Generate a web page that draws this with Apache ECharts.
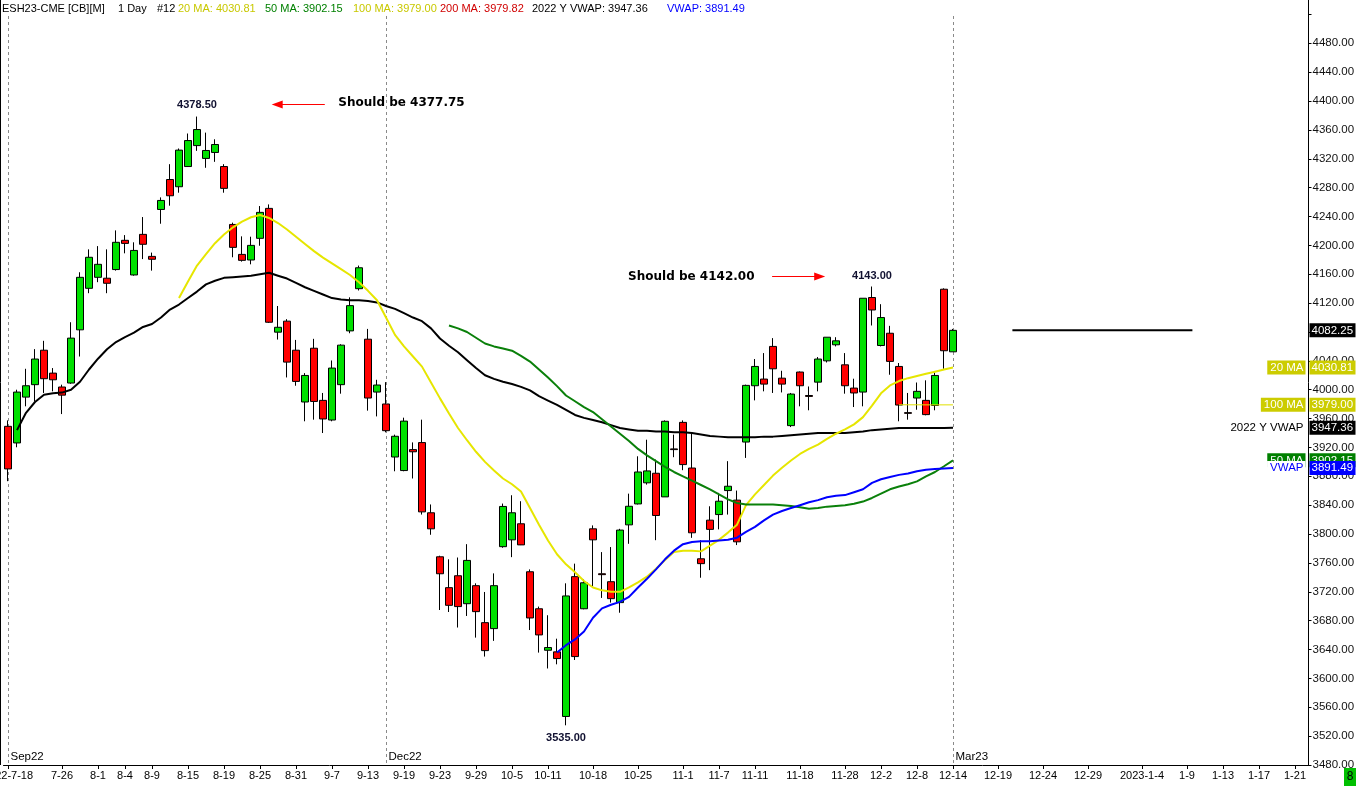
<!DOCTYPE html>
<html><head><meta charset="utf-8">
<script src="https://cdn.jsdelivr.net/npm/echarts@6/dist/echarts.min.js"></script>
<style>html,body{margin:0;padding:0;background:#fff;overflow:hidden}#c{width:1358px;height:787px}</style>
</head><body><div id="c"></div>
<script>
// ---------- categories ----------
const dates = [
"2022-7-18","7-19","7-20","7-21","7-22","7-25","7-26","7-27","7-28","7-29",
"8-1","8-2","8-3","8-4","8-5","8-8","8-9","8-10","8-11","8-12",
"8-15","8-16","8-17","8-18","8-19","8-22","8-23","8-24","8-25","8-26",
"8-29","8-30","8-31","9-1","9-2","9-6","9-7","9-8","9-9","9-12",
"9-13","9-14","9-15","9-16","9-19","9-20","9-21","9-22","9-23","9-26",
"9-27","9-28","9-29","9-30","10-3","10-4","10-5","10-6","10-7","10-10",
"10-11","10-12","10-13","10-14","10-17","10-18","10-19","10-20","10-21","10-24",
"10-25","10-26","10-27","10-28","10-31","11-1","11-2","11-3","11-4","11-7",
"11-8","11-9","11-10","11-11","11-14","11-15","11-16","11-17","11-18","11-21",
"11-22","11-23","11-25","11-28","11-29","11-30","12-1","12-2","12-5","12-6",
"12-7","12-8","12-9","12-12","12-13","12-14",
"12-15","12-16","12-17","12-18","12-19","12-20","12-21","12-22","12-23","12-24",
"12-25","12-26","12-27","12-28","12-29","12-30","12-31","1-1","1-2","1-3",
"2023-1-4","1-5","1-6","1-7","1-8","1-9","1-10","1-11","1-12","1-13",
"1-14","1-15","1-16","1-17","1-18","1-19","1-20","1-21","1-22"];
const tickLabels = ["2022-7-18","7-26","8-1","8-4","8-9","8-15","8-19","8-25","8-31","9-7","9-13","9-19","9-23","9-29","10-5","10-11","10-18","10-25","11-1","11-7","11-11","11-18","11-28","12-2","12-8","12-14","12-19","12-24","12-29","2023-1-4","1-9","1-13","1-17","1-21"];

// ---------- OHLC ----------
const opens = [3949.25,3926.25,3989.75,4007,4054.75,4023,4003.75,4009.25,4083,4140.5,
4155.75,4154.5,4166.5,4207,4159,4215.25,4184.75,4249.75,4291.25,4281.25,
4309.25,4338.25,4320.5,4328.75,4309.25,4229,4187.5,4179.75,4209.75,4251.25,
4079.75,4095,4054.75,3983,4057.5,3985.25,3958,4007,4081.5,4140,
4070,3996.75,3980.25,3906.75,3888,3917,3926.75,3829.5,3768.5,3725.75,
3742.25,3703.5,3728.5,3677.25,3669,3782.5,3792,3814.25,3747.75,3696.5,
3639,3636.75,3547.25,3741,3696.5,3807.25,3745,3734,3705,3812.75,
3841.75,3871,3884.25,3851.5,3918,3954.75,3891.5,3765.75,3819.25,3827,
3860.25,3847,3927.5,4005.5,4014.75,4060,4016,3950.25,4024.5,3992,
4010.5,4040,4062.25,4034.5,4002.25,3996.75,4127.75,4061.25,4078.25,4032.25,
3968.25,3988.5,3985.25,3978.25,4139.25,4052.5];
const highs = [3957.5,4000,4029,4056.25,4067.75,4030,4007,4093.5,4162.75,4194.5,
4199,4194.5,4220.75,4214.25,4204.25,4239.25,4190,4266.5,4312.5,4334.25,
4355,4378.5,4356.25,4347,4312.5,4231.5,4212.5,4212,4254.5,4256.75,
4116,4097.75,4069,4023,4070.5,3995.5,4040.5,4063,4128,4172,
4084.25,4013.75,4010.5,3937.75,3961.25,3927,3958.5,3841,3770,3765,
3767.5,3786,3731.75,3719.75,3745.5,3842.25,3853.75,3845.5,3751,3699.5,
3687.5,3655,3731.75,3759,3737.25,3812,3775,3782,3807.25,3856,
3907.75,3930.75,3903.25,3957.5,3937.75,3957.5,3940,3791.5,3838.5,3857,
3901,3860.25,4007,4042.5,4050.75,4071.5,4026.25,3995.5,4025.25,4004.5,
4045.25,4072.75,4072.75,4050.75,4015.25,4126.75,4143,4118.5,4088.5,4037,
3995.5,4010,4013,4024,4140.5,4084.25];
const lows = [3873.25,3920.25,3977,3983.75,3995.5,3997.75,3966.25,4008.25,4046,4133.75,
4149,4133.75,4165,4189,4158,4181,4165,4230,4255,4273,
4308.75,4331,4307.5,4315.75,4273,4183.5,4177.5,4173.75,4199.5,4092.5,
4069.5,4017,4005.5,3956.25,3958.5,3940,3956.25,3994.5,4078.25,4137.5,
3971,3963,3941,3887,3887,3877,3827,3799,3694.75,3692,
3670.5,3686.5,3656.5,3630.25,3652,3781,3768,3784.75,3667,3635.75,
3613.75,3619.5,3535,3625.5,3695.75,3728,3711.5,3705,3691,3786.5,
3841,3868.5,3791.5,3851.5,3906.5,3888.5,3794.75,3739.5,3750,3806.5,
3827,3784.75,3905.5,3985.25,3997.75,3995.5,3996.25,3948.25,3977,3971.5,
3997.75,4037.75,4060,3994.5,3976,3977,4089,4060,4020.75,3956.25,
3958.5,3972.25,3964.5,3971.5,4029,4052.5];
const closes = [3890.25,3996.75,4005.5,4042.5,4015.25,4013.75,3992.5,4071.5,4155.75,4183.5,
4173.75,4147.5,4204.25,4202.75,4193,4201.5,4180.75,4262.25,4268.75,4332,
4345.25,4360.5,4331.5,4339.75,4279,4197.25,4179.25,4200,4245.75,4093.5,
4086.5,4038.25,4011.5,4019.75,3983.75,3959.5,4030,4061.75,4116.5,4169,
3988.5,4006.5,3943.25,3935.5,3956.5,3914,3830.75,3807.25,3745,3701.25,
3699.5,3763.5,3692.5,3638.5,3728.5,3838.25,3829.5,3785,3683.75,3660.25,
3642.75,3627.5,3714.25,3630.25,3732.5,3792,3743.75,3710.5,3805.5,3838.5,
3886,3887.5,3825.75,3956.25,3917,3896.25,3801.75,3759,3806.5,3845.5,
3866.25,3789.25,4006,4032.25,4007.75,4029,4007.75,3994,4005.5,3990.75,
4042.5,4072.75,4067.75,4005.5,3995.5,4126.75,4110.5,4100,4039.25,3978.75,
3967.25,3997.75,3965.5,4019.75,4054,4082.25];

// ---------- indicator lines ----------
const yearVwapStart = 1;
const yearVwap = [3944,3968,3983,3993,3995,3996,4000,4011,4028,4043,
4056,4066,4073,4079,4087,4091,4100,4111,4118,4127,
4136,4146,4151,4155,4156,4157,4158,4160,4162,4158,
4154,4148,4142,4137,4132,4127,4125,4124,4124,4123,
4121,4116,4112,4106,4100,4095,4085,4071,4061,4052,
4041,4030,4020,4015,4011,4008,4004,3999,3991,3985,
3979,3972,3965,3961,3958,3955,3951,3947,3945,3943,
3943,3942,3942,3941,3941,3940,3938,3936,3935,3934,
3934,3934,3934,3935,3935,3936,3937,3938,3939,3940,
3940,3940,3940,3941,3942,3944,3945,3946,3947,3947,
3947,3947,3947,3947,3947.36];
const ma20Start = 19;
const ma20 = [4127,4150,4172,4188,4203,4215,4225,4233,4239,4242,
4238,4231,4222,4212,4202,4192,4183,4175,4167,4159,
4149,4137,4124,4100,4076,4060,4046,4032,4010,3988,
3967,3947,3930,3914,3900,3888,3877,3869,3859,3836,
3813,3791,3772,3758,3747,3735,3726,3722,3720,3720,
3726,3733,3741,3752,3764,3775,3777,3777,3776,3784,
3792,3802,3813,3840,3855,3868,3881,3892,3902,3911,
3918,3924,3932,3939,3945,3952,3962,3978,3995,4006,
4012,4016,4019,4022,4025,4028,4030.81];
const ma50Start = 49;
const ma50 = [4089,4085,4080,4072,4064,4060,4057,4054,4047,4039,
4028,4017,4005,3992,3984,3976,3969,3959,3949,3939,
3929,3918,3909,3901,3893,3886,3880,3874,3868,3862,
3855,3848,3843,3841,3841,3841,3841,3840,3839,3837,
3835,3836,3838,3839,3840,3842,3845,3850,3856,3862,
3866,3869,3873,3880,3886,3894,3902.15];
const ma100Start = 99;
const ma100 = [3979.2,3979.1,3979.1,3979,3979,3979,3979];
const vwapStart = 61;
const vwap = [3636,3646,3654,3665,3684,3697,3702,3706,3713,3726,
3738,3751,3765,3777,3786,3789,3790,3790,3791,3792,
3795,3803,3810,3819,3827,3832,3836,3840,3844,3847,
3851,3853,3854,3858,3862,3871,3876,3879,3882,3884,
3887,3889,3890,3891,3891.49];
const hLineValue = 4082.25;
const hLineFrom = 111.6, hLineTo = 131.6;

// ---------- texts ----------
const headerParts = [
  {t:"ESH23-CME [CB][M]", c:"#000", x:2},
  {t:"1 Day", c:"#000", x:118},
  {t:"#12", c:"#000", x:157},
  {t:"20 MA: 4030.81", c:"#c8c800", x:178},
  {t:"50 MA: 3902.15", c:"#008000", x:265},
  {t:"100 MA: 3979.00", c:"#c8c800", x:353},
  {t:"200 MA: 3979.82", c:"#d00000", x:440},
  {t:"2022 Y VWAP: 3947.36", c:"#000", x:532},
  {t:"VWAP: 3891.49", c:"#0000ff", x:667}
];
const axisTags = [
  {value:4082.25, bg:"#000000", fg:"#fff"},
  {value:4030.81, bg:"#cccc00", fg:"#fff", name:"20 MA", nameBg:"#cccc00", nameFg:"#fff"},
  {value:3979.00, bg:"#cccc00", fg:"#fff", name:"100 MA", nameBg:"#cccc00", nameFg:"#fff"},
  {value:3947.36, bg:"#000000", fg:"#fff", name:"2022 Y VWAP", nameBg:"#fff", nameFg:"#000"},
  {value:3902.15, bg:"#008000", fg:"#fff", name:"50 MA", nameBg:"#008000", nameFg:"#fff"},
  {value:3891.49, bg:"#0000ff", fg:"#fff", name:"VWAP", nameBg:"#fff", nameFg:"#0000ff"}
];
const extremeLabels = [
  {text:"4378.50", i:21, kind:"high", dy:-12},
  {text:"4143.00", i:96, kind:"high", dy:-11},
  {text:"3535.00", i:62, kind:"low", dy:13}
];
const notes = [
  {text:"Should be 4377.75", i:36.7, price:4397, arrowFrom:35.2, arrowTo:29.3, arrowPrice:4395.7},
  {text:"Should be 4142.00", i:68.9, price:4156, arrowFrom:84.9, arrowTo:90.8, arrowPrice:4157.4}
];
const contracts = [{i:0, label:"Sep22"},{i:42, label:"Dec22"},{i:105, label:"Mar23"}];

// ---------- build ----------
function pad(start, arr){ const out = new Array(dates.length).fill(null); arr.forEach((v,k)=>{out[start+k]=v;}); return out; }
const candles = opens.map((o,k)=>[o, closes[k], lows[k], highs[k]]);
const labelSet = new Set(tickLabels);
const showFn = (idx, val) => labelSet.has(val);
const FONT = "'Liberation Sans', Arial, sans-serif";

const chart = echarts.init(document.getElementById('c'), null, {renderer:'canvas'});
const lineBase = {type:'line', showSymbol:false, symbol:'none', silent:true, z:5, animation:false};
chart.setOption({
  animation:false,
  backgroundColor:'#fff',
  grid:{left:3.5, right:49.5, top:0, bottom:22, containLabel:false, outerBoundsMode:'none'},
  xAxis:{type:'category', data:dates, boundaryGap:true,
    axisLine:{show:true, lineStyle:{color:'#000', width:1}},
    axisTick:{show:true, interval:showFn, alignWithLabel:true, length:4, lineStyle:{color:'#000'}},
    axisLabel:{interval:showFn, fontSize:11, color:'#000', margin:5, fontFamily:FONT, hideOverlap:false},
    splitLine:{show:false}},
  yAxis:{type:'value', position:'right', min:3480, max:4540, interval:40,
    axisLine:{show:true, lineStyle:{color:'#000', width:1}},
    axisTick:{show:true, length:3, lineStyle:{color:'#000'}},
    axisLabel:{formatter:v=>(v > 4500 ? '' : v.toFixed(2)), showMaxLabel:false, margin:4, fontSize:11.5, color:'#111', fontFamily:FONT},
    splitLine:{show:false}},
  series:[
    {type:'candlestick', data:candles, barWidth:7, z:3,
      itemStyle:{color:'#00e000', color0:'#ff0000', borderColor:'#000', borderColor0:'#000', borderWidth:1}},
    Object.assign({}, lineBase, {name:'2022 Y VWAP', data:pad(yearVwapStart, yearVwap), lineStyle:{color:'#000', width:2}}),
    Object.assign({}, lineBase, {name:'20 MA', data:pad(ma20Start, ma20), lineStyle:{color:'#e6e600', width:2}}),
    Object.assign({}, lineBase, {name:'100 MA', data:pad(ma100Start, ma100), lineStyle:{color:'#e0e000', width:1}}),
    Object.assign({}, lineBase, {name:'50 MA', data:pad(ma50Start, ma50), lineStyle:{color:'#0a800a', width:2}}),
    Object.assign({}, lineBase, {name:'VWAP', data:pad(vwapStart, vwap), lineStyle:{color:'#0000ff', width:2}})
  ]
});

function X(i){ const f=Math.floor(i); const a=chart.convertToPixel({xAxisIndex:0}, f); const b=chart.convertToPixel({xAxisIndex:0}, f+1); return a+(b-a)*(i-f); }
function Y(p){ return chart.convertToPixel({yAxisIndex:0}, p); }

const g = [];
const yBottom = Y(3480);
// left frame line
g.push({type:'line', shape:{x1:0.5,y1:0,x2:0.5,y2:yBottom}, style:{stroke:'#000', lineWidth:1}, z:50});
// header
headerParts.forEach(p=>g.push({type:'text', x:p.x, y:9, style:{text:p.t, fill:p.c, font:"11px "+FONT, verticalAlign:'middle'}, z:60}));
// contract roll lines
contracts.forEach(c=>{
  const x = Math.round(X(c.i))+0.5;
  g.push({type:'line', shape:{x1:x,y1:16,x2:x,y2:yBottom}, style:{stroke:'#8a8a8a', lineWidth:1, lineDash:[3,3]}, z:2});
  g.push({type:'text', x:x+2, y:yBottom-8, style:{text:c.label, fill:'#000', font:"11.5px "+FONT, verticalAlign:'middle'}, z:60});
});
// horizontal line
g.push({type:'line', shape:{x1:X(hLineFrom), y1:Y(hLineValue), x2:X(hLineTo), y2:Y(hLineValue)}, style:{stroke:'#000', lineWidth:2}, z:6});
// extreme labels
extremeLabels.forEach(e=>{
  const p = e.kind==='high' ? highs[e.i] : lows[e.i];
  g.push({type:'text', x:X(e.i), y:Y(p)+e.dy, style:{text:e.text, fill:'#101030', font:"bold 11px "+FONT, align:'center', verticalAlign:'middle'}, z:60});
});
// notes with arrows
notes.forEach(n=>{
  g.push({type:'text', x:X(n.i), y:Y(n.price), style:{text:n.text, fill:'#000', font:"bold 12px 'DejaVu Sans', sans-serif", verticalAlign:'middle'}, z:60});
  const x1 = X(n.arrowFrom), x2 = X(n.arrowTo), y = Math.round(Y(n.arrowPrice))+0.5;
  const dir = x2 > x1 ? 1 : -1;
  g.push({type:'line', shape:{x1:x1, y1:y, x2:x2 - dir*8, y2:y}, style:{stroke:'#ff0000', lineWidth:1}, z:60});
  g.push({type:'polygon', shape:{points:[[x2,y],[x2-dir*11,y-4],[x2-dir*11,y+4]]}, style:{fill:'#ff0000'}, z:60});
});
// axis tags
const axisX = X(144) + 4.5;
axisTags.forEach((t,k)=>{
  const y = Y(t.value);
  g.push({type:'rect', shape:{x:axisX+1, y:y-7, width:46, height:14}, style:{fill:t.bg}, z:70+k*2});
  g.push({type:'text', x:axisX+3, y:y, style:{text:t.value.toFixed(2), fill:t.fg, font:"11.5px "+FONT, verticalAlign:'middle'}, z:71+k*2});
  if (t.name){
    g.push({type:'text', x:axisX-3, y:y, style:{text:t.name, fill:t.nameFg, backgroundColor:t.nameBg, padding:[1,2,1,3], font:"11.5px "+FONT, align:'right', verticalAlign:'middle'}, z:71+k*2});
  }
});
// bottom-right box
g.push({type:'rect', shape:{x:1344, y:768, width:12, height:18}, style:{fill:'#00c000'}, z:80});
g.push({type:'text', x:1350, y:777, style:{text:'8', fill:'#000', font:"12px "+FONT, align:'center', verticalAlign:'middle'}, z:81});

chart.setOption({graphic:g});
</script></body></html>
